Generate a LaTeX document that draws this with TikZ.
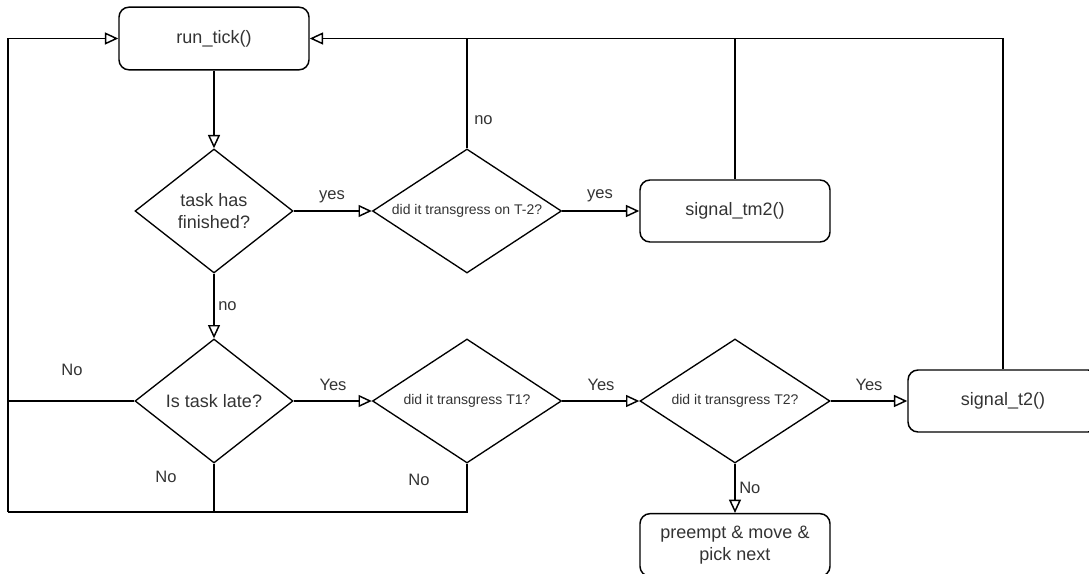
\documentclass[tikz,border=0pt]{standalone}
\usepackage{fontspec}
\setmainfont{Liberation Sans}
\usetikzlibrary{shapes.geometric,arrows.meta}
\tikzset{
  box/.style={draw, line width=1.1pt, rounded corners=7.5pt, minimum width=142.5pt, minimum height=47pt, inner sep=0pt, align=center, font=\fontsize{13.5}{16.5}\selectfont, text=black!80},
  dec/.style={draw, line width=1pt, diamond, inner sep=0pt, align=center, font=\fontsize{13.5}{16.5}\selectfont, text=black!80},
  smalltext/.style={font=\fontsize{10.5}{12}\selectfont},
  conn/.style={line width=1.1pt},
  arr/.style={conn, -{Triangle[open, length=10pt, width=9pt, line width=1.1pt]}},
  lab/.style={font=\fontsize{12.4}{14}\selectfont, text=black!80, inner sep=0pt}
}
\begin{document}
\begin{tikzpicture}[x=0.75pt,y=-0.75pt]
\useasboundingbox (0,0) rectangle (1089,574);
% nodes
\node[box] (run) at (214,38.5) {run\_tick()};
\node[dec, minimum width=118.5pt, minimum height=93pt] (d1) at (214,211) {task has\\finished?};
\node[dec, smalltext, minimum width=141.75pt, minimum height=93pt] (d2) at (467,211) {\makebox[0pt]{did it transgress on T-2?}};
\node[box, minimum height=46.5pt] (tm2) at (735,211) {signal\_tm2()};
\node[dec, minimum width=118.5pt, minimum height=93pt] (d3) at (214,401) {\makebox[0pt]{Is task late?}};
\node[dec, smalltext, minimum width=141.75pt, minimum height=93pt] (d4) at (467,401) {\makebox[0pt]{did it transgress T1?}};
\node[dec, smalltext, minimum width=142.5pt, minimum height=93pt] (d5) at (735,401) {\makebox[0pt]{did it transgress T2?}};
\node[box, minimum height=46.5pt] (t2) at (1003,401) {signal\_t2()};
\node[box] (pre) at (735,545) {preempt \& move \&\\pick next};
\coordinate (lb) at (8,512);
% connectors
\draw[arr] (run.south) -- (d1.north);
\draw[arr] (d1.east) -- (d2.west);
\draw[arr, line width=1.5pt] (d2.east) -- (tm2.west);
\draw[arr] (d1.south) -- (d3.north);
\draw[arr] (t2.north) |- (run.east);
\draw[conn] (tm2.north) -- (tm2.north |- run.east);
\draw[conn] (d2.north) -- (d2.north |- run.east);
\draw[arr] (lb) |- (run.west);
\draw[conn] (d3.west) -- (d3.west -| lb);
\draw[conn] (d3.south) |- (lb);
\draw[conn] (d4.south) |- (lb);
\draw[arr] (d3.east) -- (d4.west);
\draw[arr] (d4.east) -- (d5.west);
\draw[arr, line width=1.5pt] (d5.east) -- (t2.west);
\draw[arr] (d5.south) -- (pre.north);
% labels
\node[lab] (l1) at (332,197) {yes};
\node[lab] (l2) at (600,196) {yes};
\node[lab, anchor=west] (l3) at (218,306) {no};
\node[lab, anchor=west] (l4) at (474,120) {no};
\node[lab] (l5) at (72,370) {No};
\node[lab] (l6) at (166,477) {No};
\node[lab] (l7) at (419,480) {No};
\node[lab] (l8) at (333,385) {Yes};
\node[lab] (l9) at (601,385) {Yes};
\node[lab] (l10) at (869,385) {Yes};
\node[lab, anchor=west] (l11) at (739,488) {No};
\end{tikzpicture}
\end{document}
